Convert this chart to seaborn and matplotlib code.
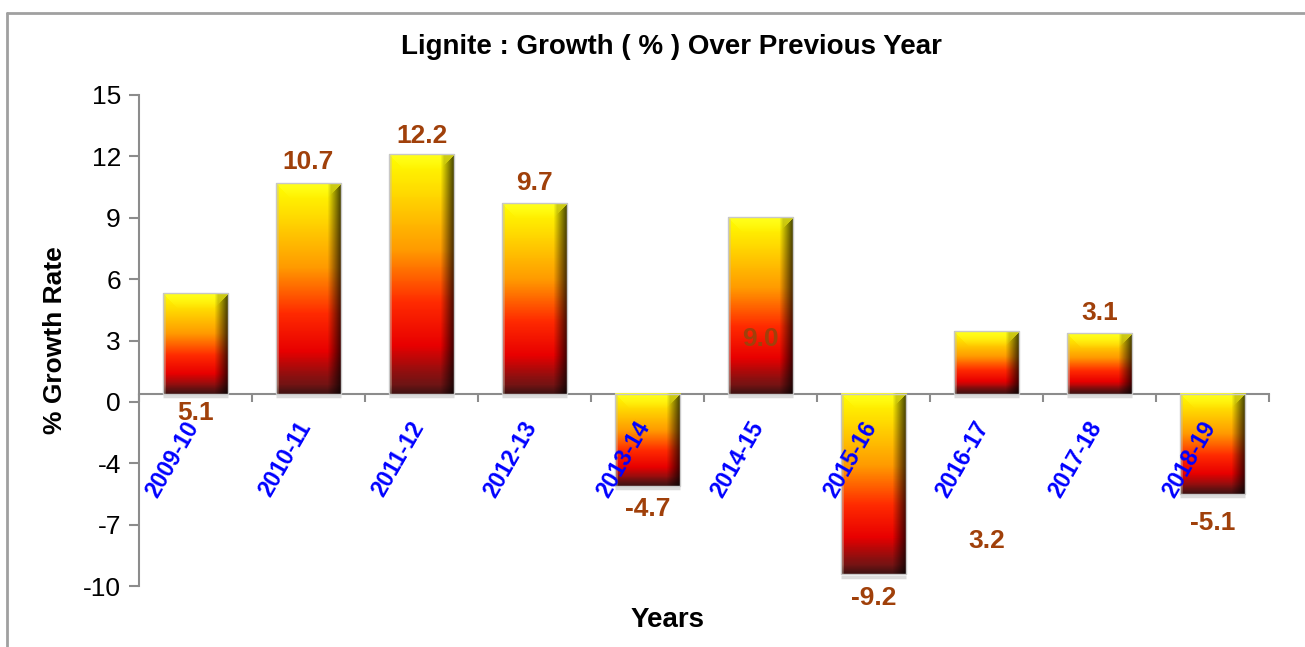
import numpy as np
import pandas as pd
import seaborn as sns
import matplotlib.pyplot as plt
from matplotlib import font_manager
from matplotlib.transforms import ScaledTranslation
from matplotlib.colors import LinearSegmentedColormap
from matplotlib.lines import Line2D

# 数据
years = ['2009-10', '2010-11', '2011-12', '2012-13', '2013-14',
         '2014-15', '2015-16', '2016-17', '2017-18', '2018-19']
growth = [5.1, 10.7, 12.2, 9.7, -4.7, 9.0, -9.2, 3.2, 3.1, -5.1]
# 数据标签的纵向位置
label_pos = [-1.0, 11.8, 13.1, 10.7, -5.9, 2.8, -10.4, -7.5, 4.1, -6.6]
ytick_vals = [-9.8, -6.675, -3.55, -0.425, 2.7, 5.825, 8.95, 12.075, 15.2]
ytick_text = ['-10', '-7', '-4', '0', '3', '6', '9', '12', '15']

df = pd.DataFrame({'year': years, 'growth': growth})

# 字体
names = {f.name for f in font_manager.fontManager.ttflist}
narrow = 'Liberation Sans Narrow' if 'Liberation Sans Narrow' in names else 'Liberation Sans'

sns.set_style('white')
plt.rcParams['font.family'] = [narrow, 'DejaVu Sans']
plt.rcParams['text.color'] = 'black'

fig = plt.figure(figsize=(13.05, 6.47), dpi=100)
ax = fig.add_axes([139 / 1305, 61 / 647, 1130 / 1305, 491 / 647])

sns.barplot(data=df, x='year', y='growth', ax=ax, width=0.58, color='red', saturation=1)

ax.set_xlim(-0.5, len(years) - 0.5)
ax.set_ylim(ytick_vals[0], ytick_vals[-1])

# 渐变色柱子（带斜角效果）
grad = LinearSegmentedColormap.from_list('lig', [
    (0.0, '#ffff00'), (0.15, '#ffdc00'), (0.4, '#ff9a00'),
    (0.62, '#ff2a00'), (0.8, '#e80000'), (0.92, '#8a1010'), (1.0, '#5a1818')])
px_per_unit = 491 / (ytick_vals[-1] - ytick_vals[0])


def bar_image(h_px, W=66, bevel=15):
    H = max(int(round(h_px)), 4)
    rows = grad(np.linspace(0, 1, H))[:, :3]
    img = np.repeat(rows[:, None, :], W, axis=1).copy()
    yy, xx = np.mgrid[0:H, 0:W].astype(float)
    b = min(bevel, H / 3)
    # 顶部斜面：亮黄，向下渐隐
    top = (yy < b) & (xx >= yy) & (xx < W - yy)
    a = np.clip(1 - yy / b, 0, 1) * 0.75
    img[top] = img[top] * (1 - a[top][:, None]) + np.array([1.0, 1.0, 0.15]) * a[top][:, None]
    # 右侧暗面（平滑）
    d = (W - 1 - xx)
    f = np.clip(0.25 + 0.75 * d / 14, 0.25, 1.0)
    f = np.where(top, np.maximum(f, 0.8), f)
    img = img * f[..., None]
    # 左侧亮边
    left = (xx < 3) & (xx <= yy)
    img[left] = img[left] * 0.6 + np.array([0.8, 0.75, 0.65]) * 0.4
    # 底部渐暗
    g = np.clip((yy - (H - 10)) / 10, 0, 1)
    img = img * (1 - 0.3 * g)[..., None]
    return img


for p in ax.patches:
    x0, w = p.get_x(), p.get_width()
    y0, h = p.get_y(), p.get_height()
    lo, hi = min(y0, y0 + h), max(y0, y0 + h)
    p.set_facecolor('none')
    p.set_edgecolor('#c8c8c8')
    p.set_linewidth(1)
    p.set_zorder(2.1)
    img = bar_image(abs(h) * px_per_unit)
    ax.imshow(img, extent=[x0, x0 + w, lo, hi], aspect='auto',
              origin='upper', zorder=2, interpolation='bilinear')
    # 底部阴影
    ax.plot([x0, x0 + w], [lo - 0.12, lo - 0.12], color='#dcdcdc', lw=2.5,
            zorder=1.9, solid_capstyle='butt')

ax.set_xlim(-0.5, len(years) - 0.5)
ax.set_ylim(ytick_vals[0], ytick_vals[-1])
ax.set_axisbelow(False)

# 坐标轴样式
for s in ['top', 'right']:
    ax.spines[s].set_visible(False)
ax.spines['bottom'].set_position(('data', 0))
ax.spines['left'].set_color('#8c8c8c')
ax.spines['bottom'].set_color('#8c8c8c')
ax.spines['left'].set_linewidth(1.5)
ax.spines['bottom'].set_linewidth(1.5)
ax.spines['bottom'].set_zorder(1.5)

ax.set_yticks(ytick_vals)
ax.set_yticklabels(ytick_text, fontsize=19, color='black')
ax.tick_params(axis='y', direction='out', length=7, width=1.5, color='#8c8c8c',
               left=True, pad=6)

ax.set_xticks(range(len(years)))
ax.set_xticklabels(years, rotation=60, ha='right', va='top', fontsize=16.5,
                   fontweight='bold', color='#0000ff')
ax.set_xticks(np.arange(len(years) + 1) - 0.5, minor=True)
ax.tick_params(axis='x', which='major', length=0, pad=17)
ax.tick_params(axis='x', which='minor', direction='out', length=6, width=1.5,
               color='#8c8c8c', bottom=True)
offset = ScaledTranslation(7.5 / 100, 0, fig.dpi_scale_trans)
for lbl in ax.get_xticklabels():
    lbl.set_transform(lbl.get_transform() + offset)
    lbl.set_zorder(6)
ax.set_xlabel('')
ax.set_ylabel('')

# 数据标签
for i, (v, yp) in enumerate(zip(growth, label_pos)):
    ax.text(i, yp, f'{v:.1f}', ha='center', va='center', fontsize=19,
            fontweight='bold', color='#a0400a', clip_on=False, zorder=5)

# 标题和轴标题
fig.text(671 / 1305, 1 - 47 / 647, 'Lignite : Growth ( % ) Over Previous Year',
         ha='center', va='center', fontsize=20, fontweight='bold', color='black')
fig.text(55 / 1305, 1 - 340 / 647, '% Growth Rate', rotation=90,
         ha='center', va='center', fontsize=19, fontweight='bold', color='black')
fig.text(668 / 1305, 1 - 620 / 647, 'Years', ha='center', va='center',
         fontsize=20, fontweight='bold', color='black')

# 外框
fig.add_artist(Line2D([7 / 1305, 7 / 1305], [0, 1 - 13 / 647],
                      transform=fig.transFigure, color='#a0a0a0', lw=2))
fig.add_artist(Line2D([7 / 1305, 1], [1 - 13 / 647, 1 - 13 / 647],
                      transform=fig.transFigure, color='#a0a0a0', lw=2))

plt.savefig('out.png', dpi=100)
